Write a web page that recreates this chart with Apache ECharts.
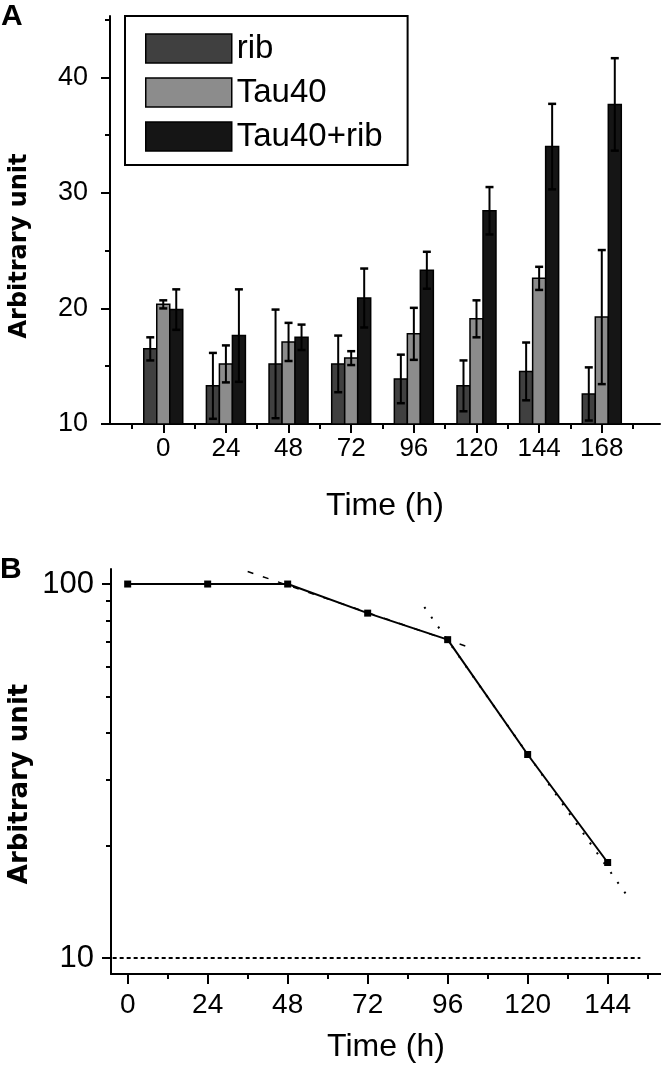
<!DOCTYPE html>
<html><head><meta charset="utf-8">
<script src="https://cdn.jsdelivr.net/npm/echarts@6/dist/echarts.min.js"></script>
<style>html,body{margin:0;padding:0;background:#fff}#c{width:661px;height:1073px}</style>
</head><body><div id="c"></div>
<script>
// ---------- Panel A data ----------
const timesA = [0, 24, 48, 72, 96, 120, 144, 168];
const ribMean = [16.5, 13.3, 15.2, 15.2, 13.9, 13.3, 14.55, 12.6];
const ribErr = [1.0, 2.85, 4.7, 2.45, 2.1, 2.2, 2.5, 2.3];
const tauMean = [20.35, 15.2, 17.1, 15.7, 17.8, 19.1, 22.6, 19.25];
const tauErr = [0.35, 1.6, 1.65, 0.6, 2.25, 1.6, 1.0, 5.8];
const tauRibMean = [19.9, 17.65, 17.5, 20.9, 23.3, 28.45, 34.0, 37.65];
const tauRibErr = [1.75, 4.0, 1.1, 2.55, 1.6, 2.05, 3.7, 4.0];
const seriesNamesA = ['rib', 'Tau40', 'Tau40+rib'];
const yTicksA = [10, 20, 30, 40];
const yMinorA = [15, 25, 35, 45];
const xMinorA = [-12, 12, 36, 60, 84, 108, 132, 156, 180];

// ---------- Panel B data ----------
const timesB = [0, 24, 48, 72, 96, 120, 144];
const valuesB = [100, 100, 100, 83.6, 71, 35, 18];
const fitEarly = [[36, 108], [104, 67]];
const fitLate = [[89, 86.8], [150, 14.6]];
const refLevel = 10;
const refSpan = [-4.5, 153.8];
const xTicksB = [0, 24, 48, 72, 96, 120, 144];
const xMinorB = [12, 36, 60, 84, 108, 132, 156];
const yTicksB = [10, 100];
const yMinorB = [20, 30, 40, 50, 60, 70, 80, 90];

const FONT = '"Liberation Sans", Arial, sans-serif';
const fills = ['#404040', '#8c8c8c', '#151515'];
const BAR_W = 4.98; // bar width in hours

function makeRender(k) {
  return function (params, api) {
    const x = api.value(0), y = api.value(1), e = api.value(2);
    const base = api.coord([x, 10]);
    const top = api.coord([x, y]);
    const bw = api.size([BAR_W, 0])[0];
    const cx = base[0] + (k - 1) * bw;
    const hi = api.coord([x, y + e])[1];
    const lo = api.coord([x, y - e])[1];
    const cap = 4;
    return {
      type: 'group',
      children: [
        { type: 'rect', shape: { x: cx - bw / 2, y: top[1], width: bw, height: base[1] - top[1] },
          style: { fill: fills[k], stroke: '#000', lineWidth: 1.5 } },
        { type: 'line', shape: { x1: cx, y1: hi, x2: cx, y2: lo }, style: { stroke: '#000', lineWidth: 2 } },
        { type: 'line', shape: { x1: cx - cap, y1: hi, x2: cx + cap, y2: hi }, style: { stroke: '#000', lineWidth: 2.5 } },
        { type: 'line', shape: { x1: cx - cap, y1: lo, x2: cx + cap, y2: lo }, style: { stroke: '#000', lineWidth: 2.5 } }
      ]
    };
  };
}

const meansA = [ribMean, tauMean, tauRibMean];
const errsA = [ribErr, tauErr, tauRibErr];

const chart = echarts.init(document.getElementById('c'), null, { renderer: 'canvas' });

const axisLineStyle = { color: '#000', width: 2 };
const labelBase = { color: '#000', fontFamily: FONT };

const option = {
  animation: false,
  backgroundColor: '#fff',
  grid: [
    { left: 110, top: 16, width: 550, height: 408 },
    { left: 111, top: 569, width: 550, height: 405 }
  ],
  legend: {
    orient: 'vertical', left: 125, top: 16,
    padding: [16, 25, 12, 20],
    borderColor: '#000', borderWidth: 2,
    itemWidth: 86, itemHeight: 29, itemGap: 11,
    textStyle: { fontSize: 33, color: '#000', fontFamily: FONT },
    data: seriesNamesA.map((n, i) => ({ name: n, icon: 'rect',
      itemStyle: { color: fills[i], borderColor: '#000', borderWidth: 1.5 } }))
  },
  xAxis: [
    { gridIndex: 0, type: 'value', min: -20.4, max: 190.3, position: 'bottom',
      axisLine: { onZero: false, lineStyle: axisLineStyle },
      axisTick: { customValues: timesA, length: 9, lineStyle: { color: '#000', width: 2 } },
      axisLabel: { customValues: timesA, margin: 12, fontSize: 26, ...labelBase },
      splitLine: { show: false },
      name: 'Time (h)', nameLocation: 'middle', nameGap: 66,
      nameTextStyle: { fontSize: 32, ...labelBase } },
    { gridIndex: 0, type: 'value', min: -20.4, max: 190.3, position: 'bottom',
      axisLine: { show: false, onZero: false },
      axisTick: { customValues: xMinorA, length: 5, lineStyle: { color: '#000', width: 2 } },
      axisLabel: { show: false }, splitLine: { show: false } },
    { gridIndex: 1, type: 'value', min: -5, max: 160, position: 'bottom',
      axisLine: { onZero: false, lineStyle: axisLineStyle },
      axisTick: { customValues: xTicksB, length: 10, lineStyle: { color: '#000', width: 2 } },
      axisLabel: { customValues: xTicksB, margin: 17, fontSize: 28, ...labelBase },
      splitLine: { show: false },
      name: 'Time (h)', nameLocation: 'middle', nameGap: 57,
      nameTextStyle: { fontSize: 32, ...labelBase } },
    { gridIndex: 1, type: 'value', min: -5, max: 160, position: 'bottom',
      axisLine: { show: false, onZero: false },
      axisTick: { customValues: xMinorB, length: 5, lineStyle: { color: '#000', width: 2 } },
      axisLabel: { show: false }, splitLine: { show: false } }
  ],
  yAxis: [
    { gridIndex: 0, type: 'value', min: 10, max: 45.3, position: 'left',
      axisLine: { show: true, onZero: false, lineStyle: axisLineStyle },
      axisTick: { show: true, customValues: yTicksA, length: 9, lineStyle: { color: '#000', width: 2 } },
      axisLabel: { customValues: yTicksA, margin: 22, fontSize: 27, ...labelBase },
      splitLine: { show: false } },
    { gridIndex: 0, type: 'value', min: 10, max: 45.3, position: 'left',
      axisLine: { show: false, onZero: false },
      axisTick: { show: true, customValues: yMinorA, length: 5, lineStyle: { color: '#000', width: 2 } },
      axisLabel: { show: false }, splitLine: { show: false } },
    { gridIndex: 1, type: 'log', logBase: 10, min: 9.06, max: 109.7, position: 'left',
      axisLine: { show: true, onZero: false, lineStyle: axisLineStyle },
      axisTick: { show: true, customValues: yTicksB, length: 9, lineStyle: { color: '#000', width: 2 } },
      axisLabel: { customValues: yTicksB, margin: 17, fontSize: 31, ...labelBase },
      splitLine: { show: false } },
    { gridIndex: 1, type: 'log', logBase: 10, min: 9.06, max: 109.7, position: 'left',
      axisLine: { show: false, onZero: false },
      axisTick: { show: true, customValues: yMinorB, length: 5, lineStyle: { color: '#000', width: 2 } },
      axisLabel: { show: false }, splitLine: { show: false } }
  ],
  graphic: [
    { type: 'text', left: 1, top: 2,
      style: { text: 'A', fontSize: 30, fontWeight: 'bold', fontFamily: FONT, fill: '#000' } },
    { type: 'text', left: 0, top: 555,
      style: { text: 'B', fontSize: 30, fontWeight: 'bold', fontFamily: FONT, fill: '#000' } },
    { type: 'text', x: 20, y: 246, rotation: Math.PI / 2,
      style: { text: 'Arbitrary unit', fontSize: 24, fontWeight: 'bold', fontFamily: '"DejaVu Sans", sans-serif',
        fill: '#000', align: 'center', verticalAlign: 'middle' } },
    { type: 'text', x: 20, y: 784, rotation: Math.PI / 2,
      style: { text: 'Arbitrary unit', fontSize: 26, fontWeight: 'bold', fontFamily: '"DejaVu Sans", sans-serif',
        fill: '#000', align: 'center', verticalAlign: 'middle' } }
  ],
  series: [
    ...seriesNamesA.map((n, k) => ({
      name: n, type: 'custom', xAxisIndex: 0, yAxisIndex: 0,
      itemStyle: { color: fills[k], borderColor: '#000', borderWidth: 1.5 },
      renderItem: makeRender(k),
      encode: { x: 0, y: 1 },
      data: timesA.map((t, i) => [t, meansA[k][i], errsA[k][i]])
    })),
    { name: 'fitEarly', type: 'line', xAxisIndex: 2, yAxisIndex: 2, symbol: 'none', silent: true,
      lineStyle: { color: '#000', width: 1.5, type: [6, 10] }, data: fitEarly, z: 1 },
    { name: 'fitLate', type: 'line', xAxisIndex: 2, yAxisIndex: 2, symbol: 'none', silent: true,
      lineStyle: { color: '#000', width: 2, type: [2, 10] }, data: fitLate, z: 1 },
    { name: 'decay', type: 'line', xAxisIndex: 2, yAxisIndex: 2,
      symbol: 'rect', symbolSize: 7, itemStyle: { color: '#000' },
      lineStyle: { color: '#000', width: 2 },
      data: timesB.map((t, i) => [t, valuesB[i]]), z: 3,
      markLine: { silent: true, symbol: 'none', label: { show: false },
        lineStyle: { color: '#000', width: 2, type: [4, 3] },
        data: [[{ coord: [refSpan[0], refLevel] }, { coord: [refSpan[1], refLevel] }]] } }
  ]
};
chart.setOption(option);
</script>
</body></html>
